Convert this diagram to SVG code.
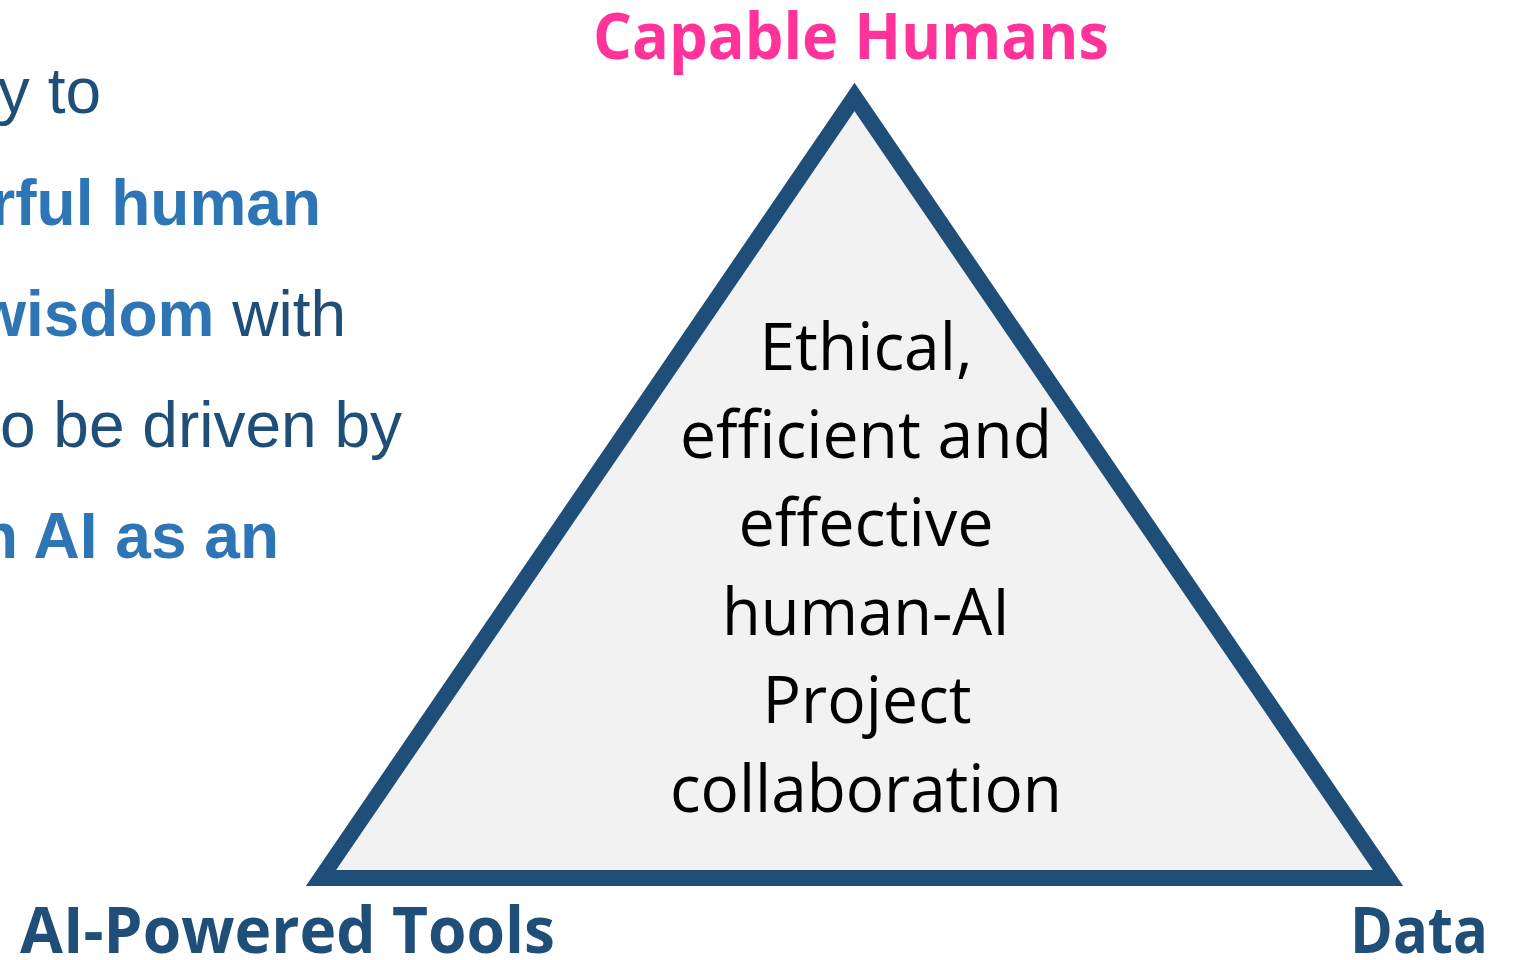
<svg xmlns="http://www.w3.org/2000/svg" width="1516" height="960" viewBox="0 0 1516 960">
<style>
.body{font-family:"Liberation Sans",Arial,sans-serif;font-size:64px;fill:#1f4e79}
.em{font-weight:bold;fill:#2e75b6}
.lbl{font-family:"Open Sans","Noto Sans",sans-serif;font-weight:bold;font-size:64px}
.ctr{font-family:"Open Sans","Noto Sans",sans-serif;font-size:66px;fill:#000;text-anchor:middle}
</style>
<rect width="1516" height="960" fill="#fff"/>
<g id="left-text" text-anchor="end">
<text class="body" x="101" y="113">y to</text>
<text class="body em" x="321" y="225">rful human</text>
<text class="body" x="346" y="336"><tspan class="em">wisdom</tspan> with</text>
<text class="body" x="402" y="447">o be driven by</text>
<text class="body em" x="279" y="558">n AI as an</text>
</g>
<g id="triangle">
<polygon points="854.5,97 321,878 1388,878" fill="#f2f2f2" stroke="#1f4e79" stroke-width="16" stroke-linejoin="miter" stroke-miterlimit="10"/>
<text class="ctr" x="866" y="370" textLength="213" lengthAdjust="spacingAndGlyphs">Ethical,</text>
<text class="ctr" x="866" y="458" textLength="372" lengthAdjust="spacingAndGlyphs">efficient and</text>
<text class="ctr" x="866" y="546" textLength="255" lengthAdjust="spacingAndGlyphs">effective</text>
<text class="ctr" x="866" y="635" textLength="288" lengthAdjust="spacingAndGlyphs">human-AI</text>
<text class="ctr" x="867" y="723" textLength="209" lengthAdjust="spacingAndGlyphs">Project</text>
<text class="ctr" x="866" y="812" textLength="392" lengthAdjust="spacingAndGlyphs">collaboration</text>
</g>
<g id="node-humans"><text class="lbl" x="593" y="59" fill="#ff3399" textLength="516" lengthAdjust="spacingAndGlyphs">Capable Humans</text></g>
<g id="node-tools"><text class="lbl" x="20" y="953" fill="#1f4e79" textLength="535" lengthAdjust="spacingAndGlyphs">AI-Powered Tools</text></g>
<g id="node-data"><text class="lbl" x="1350" y="953" fill="#1f4e79" textLength="138" lengthAdjust="spacingAndGlyphs">Data</text></g>
<g id="connectors"/>
</svg>
